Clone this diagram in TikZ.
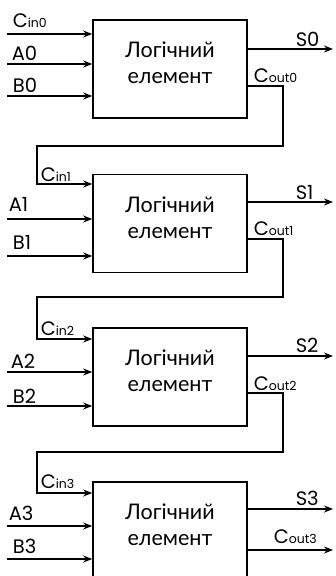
\documentclass[tikz,border=0pt]{standalone}
\usepackage{fontspec}
\setmainfont{Lato}
\newfontfamily\labelfont{Poppins}
\usetikzlibrary{arrows.meta}
\begin{document}
\begin{tikzpicture}[x=1pt,y=-1pt,line width=1.6pt,
  block/.style={draw,minimum width=154pt,minimum height=98pt,inner sep=0pt},
  blocktext/.style={font=\fontsize{21.5}{26}\selectfont,align=center,inner sep=0pt},
  sig/.style={-{Stealth[length=9pt,width=7pt]}},
  lbl/.style={font=\labelfont\fontsize{19.5}{19.5}\selectfont,anchor=base west,inner sep=0pt},
]
\clip (0,0) rectangle (336,576);

% the four logic elements
\node[block] (b0) at (170,69) {};
\node[block] (b1) at (170,223.5) {};
\node[block] (b2) at (170,377) {};
\node[block] (b3) at (170,531) {};
\foreach \i in {0,...,3}
  \node[blocktext] (t\i) at ([yshift=6pt]b\i.center) {Логічний\\елемент};

\newcommand\sub[1]{{\fontsize{12.5}{12.5}\selectfont #1}}

% ---- element 0 ----
\coordinate (ci0) at (7,34);
\coordinate (a0) at (7,64);
\coordinate (bb0) at (7,96);
\coordinate (s0) at (333,49);
\coordinate (k0) at (283,86);
\coordinate (u0) at (37,146);
\draw[sig] (ci0) -- (ci0 -| b0.west);
\draw[sig] (a0) -- (a0 -| b0.west);
\draw[sig] (bb0) -- (bb0 -| b0.west);
\draw[sig] (s0 -| b0.east) -- (s0);
\node[lbl] (lci0) at (12,27) {C\sub{in0}};
\node[lbl] (la0) at (11,60) {A0};
\node[lbl] (lb0) at (12,92) {B0};
\node[lbl] (ls0) at (295,46) {S0};
\node[lbl] (lco0) at (253,82) {C\sub{out0}};

% ---- element 1 ----
\coordinate (ci1) at (37,184);
\coordinate (a1) at (7,219);
\coordinate (bb1) at (7,256);
\coordinate (s1) at (333,202);
\coordinate (k1) at (283,239);
\coordinate (u1) at (37,297);
\draw[sig] (k0 -| b0.east) -- (k0) |- (u0) -- (ci1) -- (ci1 -| b1.west);
\draw[sig] (a1) -- (a1 -| b1.west);
\draw[sig] (bb1) -- (bb1 -| b1.west);
\draw[sig] (s1 -| b1.east) -- (s1);
\node[lbl] (lci1) at (40,181) {C\sub{in1}};
\node[lbl] (la1) at (8,211) {A1};
\node[lbl] (lb1) at (12,249) {B1};
\node[lbl] (ls1) at (295,199) {S1};
\node[lbl] (lco1) at (253,235) {C\sub{out1}};

% ---- element 2 ----
\coordinate (ci2) at (37,339);
\coordinate (a2) at (7,372);
\coordinate (bb2) at (7,406);
\coordinate (s2) at (333,356);
\coordinate (k2) at (283,393);
\coordinate (u2) at (37,452);
\draw[sig] (k1 -| b1.east) -- (k1) |- (u1) -- (ci2) -- (ci2 -| b2.west);
\draw[sig] (a2) -- (a2 -| b2.west);
\draw[sig] (bb2) -- (bb2 -| b2.west);
\draw[sig] (s2 -| b2.east) -- (s2);
\node[lbl] (lci2) at (40,335) {C\sub{in2}};
\node[lbl] (la2) at (10,368) {A2};
\node[lbl] (lb2) at (12,403) {B2};
\node[lbl] (ls2) at (295,352) {S2};
\node[lbl] (lco2) at (253,390) {C\sub{out2}};

% ---- element 3 ----
\coordinate (ci3) at (37,493);
\coordinate (a3) at (7,526);
\coordinate (bb3) at (7,559);
\coordinate (s3) at (333,509);
\coordinate (k3) at (333,550);
\draw[sig] (k2 -| b2.east) -- (k2) |- (u2) -- (ci3) -- (ci3 -| b3.west);
\draw[sig] (a3) -- (a3 -| b3.west);
\draw[sig] (bb3) -- (bb3 -| b3.west);
\draw[sig] (s3 -| b3.east) -- (s3);
\draw[sig] (k3 -| b3.east) -- (k3);
\node[lbl] (lci3) at (40,488) {C\sub{in3}};
\node[lbl] (la3) at (8,520) {A3};
\node[lbl] (lb3) at (12,553) {B3};
\node[lbl] (ls3) at (295,505) {S3};
\node[lbl] (lco3) at (273,543) {C\sub{out3}};
\end{tikzpicture}
\end{document}
